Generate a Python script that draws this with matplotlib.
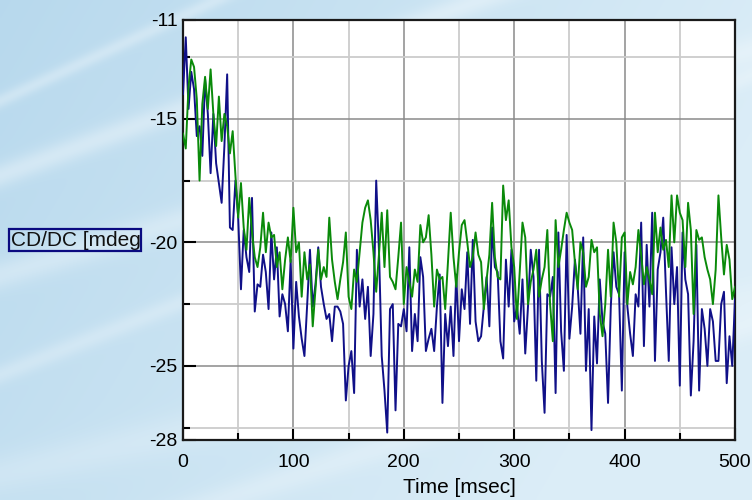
import numpy as np
import matplotlib
matplotlib.use("Agg")
import matplotlib.pyplot as plt
from matplotlib.ticker import MultipleLocator, FixedLocator
from matplotlib.transforms import Bbox

plt.rcParams['font.family'] = ['Liberation Sans', 'DejaVu Sans']
plt.rcParams['axes.unicode_minus'] = False

# --- data (2.5 msec steps, 0..500) ---
blue_cd = [
    -14.0, -11.7, -14.6, -13.1, -13.8, -15.7, -15.3, -16.5, -13.4, -14.8,
    -17.2, -14.8, -16.8, -17.6, -18.4, -16.1, -13.2, -19.4, -19.5, -17.5,
    -19.0, -21.9, -19.5, -20.6, -21.2, -18.2, -22.8, -21.7, -21.8, -20.5,
    -21.2, -22.7, -19.6, -21.5, -20.2, -23.0, -22.1, -22.5, -23.6, -20.7,
    -24.3, -21.6, -23.0, -23.9, -24.6, -22.5, -20.3, -22.6, -21.7, -20.2,
    -21.8, -22.5, -23.1, -22.9, -24.0, -22.6, -22.6, -22.8, -23.3, -26.4,
    -25.0, -24.4, -26.1, -20.3, -22.6, -21.5, -23.1, -21.8, -24.6, -22.9,
    -17.5, -20.3, -24.6, -26.0, -27.7, -22.7, -22.5, -26.8, -23.3, -23.4,
    -22.7, -23.6, -20.2, -24.4, -22.9, -24.0, -20.6, -21.4, -24.4, -23.9,
    -23.5, -24.4, -22.6, -21.3, -26.5, -22.9, -24.2, -22.6, -24.6, -21.3,
    -24.0, -21.9, -22.7, -20.4, -23.3, -19.9, -23.2, -24.0, -23.8, -22.6,
    -21.4, -23.4, -19.4, -21.0, -21.2, -24.0, -24.7, -20.7, -22.6, -20.3,
    -23.2, -22.6, -23.7, -21.5, -24.5, -22.6, -20.3, -21.4, -25.6, -20.3,
    -24.8, -26.9, -22.1, -22.2, -21.4, -26.1, -19.6, -23.6, -25.2, -19.7,
    -23.9, -22.6, -20.7, -21.8, -23.7, -19.8, -25.2, -22.7, -27.6, -23.0,
    -24.9, -21.5, -23.2, -23.7, -26.5, -22.6, -20.4, -21.8, -22.1, -26.0,
    -20.4, -22.6, -23.7, -24.6, -22.1, -22.6, -19.2, -24.2, -20.1, -22.6,
    -18.8, -24.8, -21.1, -20.4, -19.0, -22.0, -24.8, -20.2, -22.5, -21.0,
    -25.8, -19.6, -21.5, -22.1, -26.2, -24.0, -20.1, -26.0, -22.7, -23.5,
    -25.0, -22.7, -23.2, -24.8, -24.8, -22.5, -22.0, -25.7, -23.8, -25.0,
    -22.3,
]

green_cd = [
    -15.6, -16.2, -13.7, -12.6, -12.9, -14.2, -17.5, -14.4, -13.3, -14.6,
    -13.0, -14.8, -16.1, -14.1, -15.9, -14.8, -15.3, -16.4, -15.5, -17.3,
    -19.0, -17.6, -19.4, -20.3, -18.2, -19.6, -20.6, -21.0, -20.2, -18.8,
    -20.4, -19.2, -19.8, -19.7, -21.0, -20.4, -21.9, -20.7, -19.8, -20.8,
    -18.6, -20.4, -20.0, -22.2, -20.4, -21.5, -20.9, -23.4, -21.9, -20.3,
    -21.5, -21.0, -21.4, -19.0, -20.7, -21.6, -22.3, -21.5, -20.8, -19.6,
    -22.2, -22.7, -21.1, -21.6, -20.4, -19.2, -18.6, -18.3, -19.1, -20.4,
    -22.0, -20.5, -18.8, -21.0, -18.7, -21.4, -21.6, -21.9, -20.6, -19.2,
    -22.5, -21.0, -21.6, -22.2, -21.1, -21.6, -19.3, -20.0, -19.8, -18.9,
    -20.5, -22.6, -21.1, -21.5, -21.4, -22.7, -20.8, -18.8, -20.6, -21.8,
    -20.4, -19.3, -19.1, -20.0, -21.0, -20.6, -19.6, -20.5, -20.8, -22.7,
    -21.5, -20.5, -18.4, -20.6, -21.4, -21.5, -17.7, -19.1, -18.3, -20.2,
    -21.0, -23.1, -21.2, -19.2, -19.8, -22.5, -21.6, -21.1, -20.3, -22.2,
    -21.5, -21.0, -19.5, -22.5, -24.0, -19.1, -21.0, -20.3, -19.5, -18.8,
    -19.2, -19.5, -20.8, -21.9, -20.0, -20.4, -21.8, -21.4, -19.9, -20.4,
    -20.2, -22.9, -23.8, -22.5, -20.3, -22.2, -19.2, -20.0, -22.2, -19.8,
    -19.6, -22.5, -21.2, -21.7, -21.0, -19.5, -20.5, -21.7, -21.0, -21.5,
    -22.1, -18.8, -20.4, -19.4, -20.3, -19.9, -21.0, -18.1, -20.0, -18.1,
    -18.8, -19.1, -21.0, -18.4, -19.5, -22.9, -19.5, -19.9, -19.8, -20.6,
    -21.1, -21.5, -22.5, -21.1, -18.1, -19.8, -21.3, -20.1, -20.7, -22.3,
    -21.8,
]

t_blue = np.linspace(0, 500, len(blue_cd))
t_green = np.linspace(0, 500, len(green_cd))

y_ticks = [-28, -25, -20, -15, -11]
x_ticks = [0, 100, 200, 300, 400, 500]

# --- figure with a light blue textured backdrop ---
fig = plt.figure(figsize=(7.52, 5.0), dpi=100)

h, w = 250, 376
yy, xx = np.mgrid[0:1:h * 1j, 0:1:w * 1j]
left = np.array([0.72, 0.85, 0.93])
right = np.array([0.86, 0.93, 0.97])
mix = np.clip(xx * 0.9 + yy * 0.35, 0, 1)[..., None]
base = left * (1 - mix) + right * mix
# a few soft diagonal streaks
for a, b, s, k in [(-0.55, 0.35, 0.025, 0.35), (-0.45, 0.55, 0.03, 0.3),
                   (-0.6, 0.75, 0.02, 0.25), (-0.35, 0.95, 0.04, 0.2),
                   (-0.7, 0.2, 0.015, 0.3), (-0.5, 1.15, 0.03, 0.25)]:
    d = np.abs(yy - (a * xx + b))
    glow = k * np.exp(-(d / s) ** 2)[..., None]
    base = base * (1 - glow) + glow
bg = fig.add_axes([0, 0, 1, 1], zorder=0)
bg.imshow(np.clip(base, 0, 1), aspect='auto', interpolation='bilinear')
bg.axis('off')

ax = fig.add_axes([183 / 752, 60 / 500, 552 / 752, 420 / 500], zorder=1)
ax.set_facecolor('white')

ax.plot(t_blue, blue_cd, color='#101088', lw=1.4, zorder=3)
ax.plot(t_green, green_cd, color='#0a8a0a', lw=1.4, zorder=4)

ax.set_xlim(0, 500)
ax.set_ylim(-28, -11)

ax.xaxis.set_major_locator(FixedLocator(x_ticks))
ax.xaxis.set_minor_locator(MultipleLocator(50))
ax.yaxis.set_major_locator(FixedLocator(y_ticks))
ax.yaxis.set_minor_locator(FixedLocator([-27.5, -22.5, -17.5, -12.5]))

ax.grid(which='major', color='#8a8a8a', lw=1.1)
ax.grid(which='minor', color='#cccccc', lw=1.3)
ax.set_axisbelow(True)

ax.tick_params(which='major', direction='in', length=9, width=1.5,
               labelsize=14, color='black')
ax.tick_params(which='minor', direction='in', length=5, width=1.5)
ax.tick_params(axis='x', which='major', pad=10)
ax.tick_params(axis='y', which='major', pad=4)

for sp in ax.spines.values():
    sp.set_linewidth(1.6)
    sp.set_color('#1a1a1a')

ax.set_xlabel('Time [msec]', fontsize=15, labelpad=5)

ylab = fig.text(11 / 752, 1 - 241 / 500, 'CD/DC [mdeg]', fontsize=15,
                ha='left', va='center', color='#111111')
ylab.set_clip_box(Bbox.from_extents(9, 500 - 251, 141, 500 - 229))
ylab.set_clip_on(True)
box = plt.Rectangle((9 / 752, 1 - 251 / 500), 132 / 752, 22 / 500,
                    transform=fig.transFigure, fill=False,
                    edgecolor='#0a0a80', lw=1.6, zorder=5)
fig.patches.append(box)

fig.savefig('out.png', dpi=100)
